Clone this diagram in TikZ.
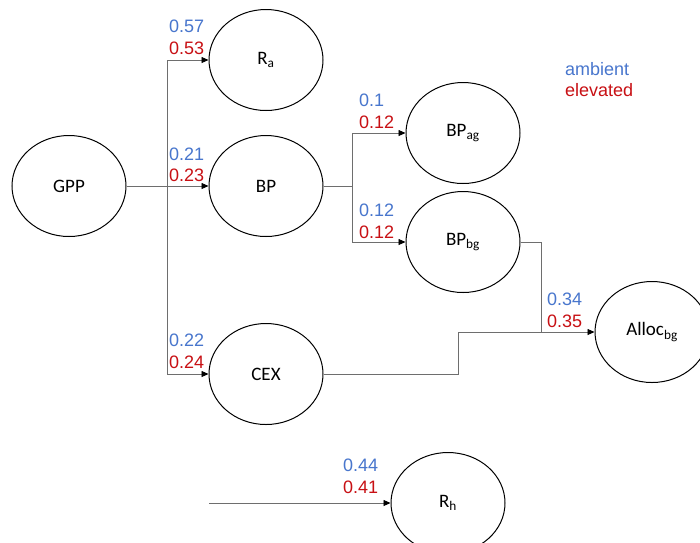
\documentclass[tikz,border=0pt]{standalone}
\usepackage{fontspec}
\setmainfont{Carlito}
\newfontfamily\numfont{Liberation Sans}
\usetikzlibrary{arrows.meta,shapes.geometric}
\definecolor{ambblue}{RGB}{72,118,205}
\definecolor{elvred}{RGB}{200,16,20}
\definecolor{linegray}{RGB}{110,110,110}
\tikzset{
  box/.style={ellipse,draw=black,line width=1pt,minimum width=114pt,minimum height=101pt,inner sep=0pt,font=\fontsize{19}{22}\selectfont},
  conn/.style={draw=linegray,line width=0.8pt},
  arr/.style={conn,-{Triangle[length=7pt,width=6pt,color=black]}},
  amb/.style={anchor=west,inner sep=0pt,text=ambblue,font=\numfont\fontsize{18}{20}\selectfont},
  elv/.style={anchor=west,inner sep=0pt,text=elvred,font=\numfont\fontsize{18}{20}\selectfont}
}
\begin{document}
\begin{tikzpicture}[x=1pt,y=-1pt]
\clip (0,0) rectangle (700,542);
\fill[white] (0,0) rectangle (700,542);
\node[box] (GPP) at (69,186) {GPP};
\node[box] (Ra) at (266,60) {R\textsubscript{a}};
\node[box] (BP) at (266,186) {BP};
\node[box] (CEX) at (266,374) {CEX};
\node[box] (BPag) at (463,133) {BP\textsubscript{ag}};
\node[box] (BPbg) at (463,242) {BP\textsubscript{bg}};
\node[box] (Alloc) at (652,332) {Alloc\textsubscript{bg}};
\node[box] (Rh) at (448,503) {R\textsubscript{h}};
\coordinate (j1) at (167,186);
\coordinate (j2) at (352,186);
\coordinate (j3) at (541,332);
\coordinate (j4) at (458,374);
\coordinate (s1) at (209,503);
\draw[arr] (GPP.east) -- (BP.west);
\draw[arr] (j1) |- (Ra.west);
\draw[arr] (j1) |- (CEX.west);
\draw[conn] (BP.east) -- (j2);
\draw[arr] (j2) |- (BPag.west);
\draw[arr] (j2) |- (BPbg.west);
\draw[conn] (BPbg.east) -| (j3);
\draw[arr] (CEX.east) -- (j4) |- (Alloc.west);
\draw[arr] (s1) -- (Rh.west);
\node[amb] (a1) at (169,26) {0.57};
\node[elv] (e1) at (169,48) {0.53};
\node[amb] (a2) at (169,154) {0.21};
\node[elv] (e2) at (169,175) {0.23};
\node[amb] (a3) at (169,340) {0.22};
\node[elv] (e3) at (169,362) {0.24};
\node[amb] (a4) at (359,100) {0.1};
\node[elv] (e4) at (359,122) {0.12};
\node[amb] (a5) at (359,210) {0.12};
\node[elv] (e5) at (359,232) {0.12};
\node[amb] (a6) at (547,299) {0.34};
\node[elv] (e6) at (547,321) {0.35};
\node[amb] (a7) at (343,465) {0.44};
\node[elv] (e7) at (343,487) {0.41};
\node[amb] (l1) at (565,69) {ambient};
\node[elv] (l2) at (565,90) {elevated};
\end{tikzpicture}
\end{document}
